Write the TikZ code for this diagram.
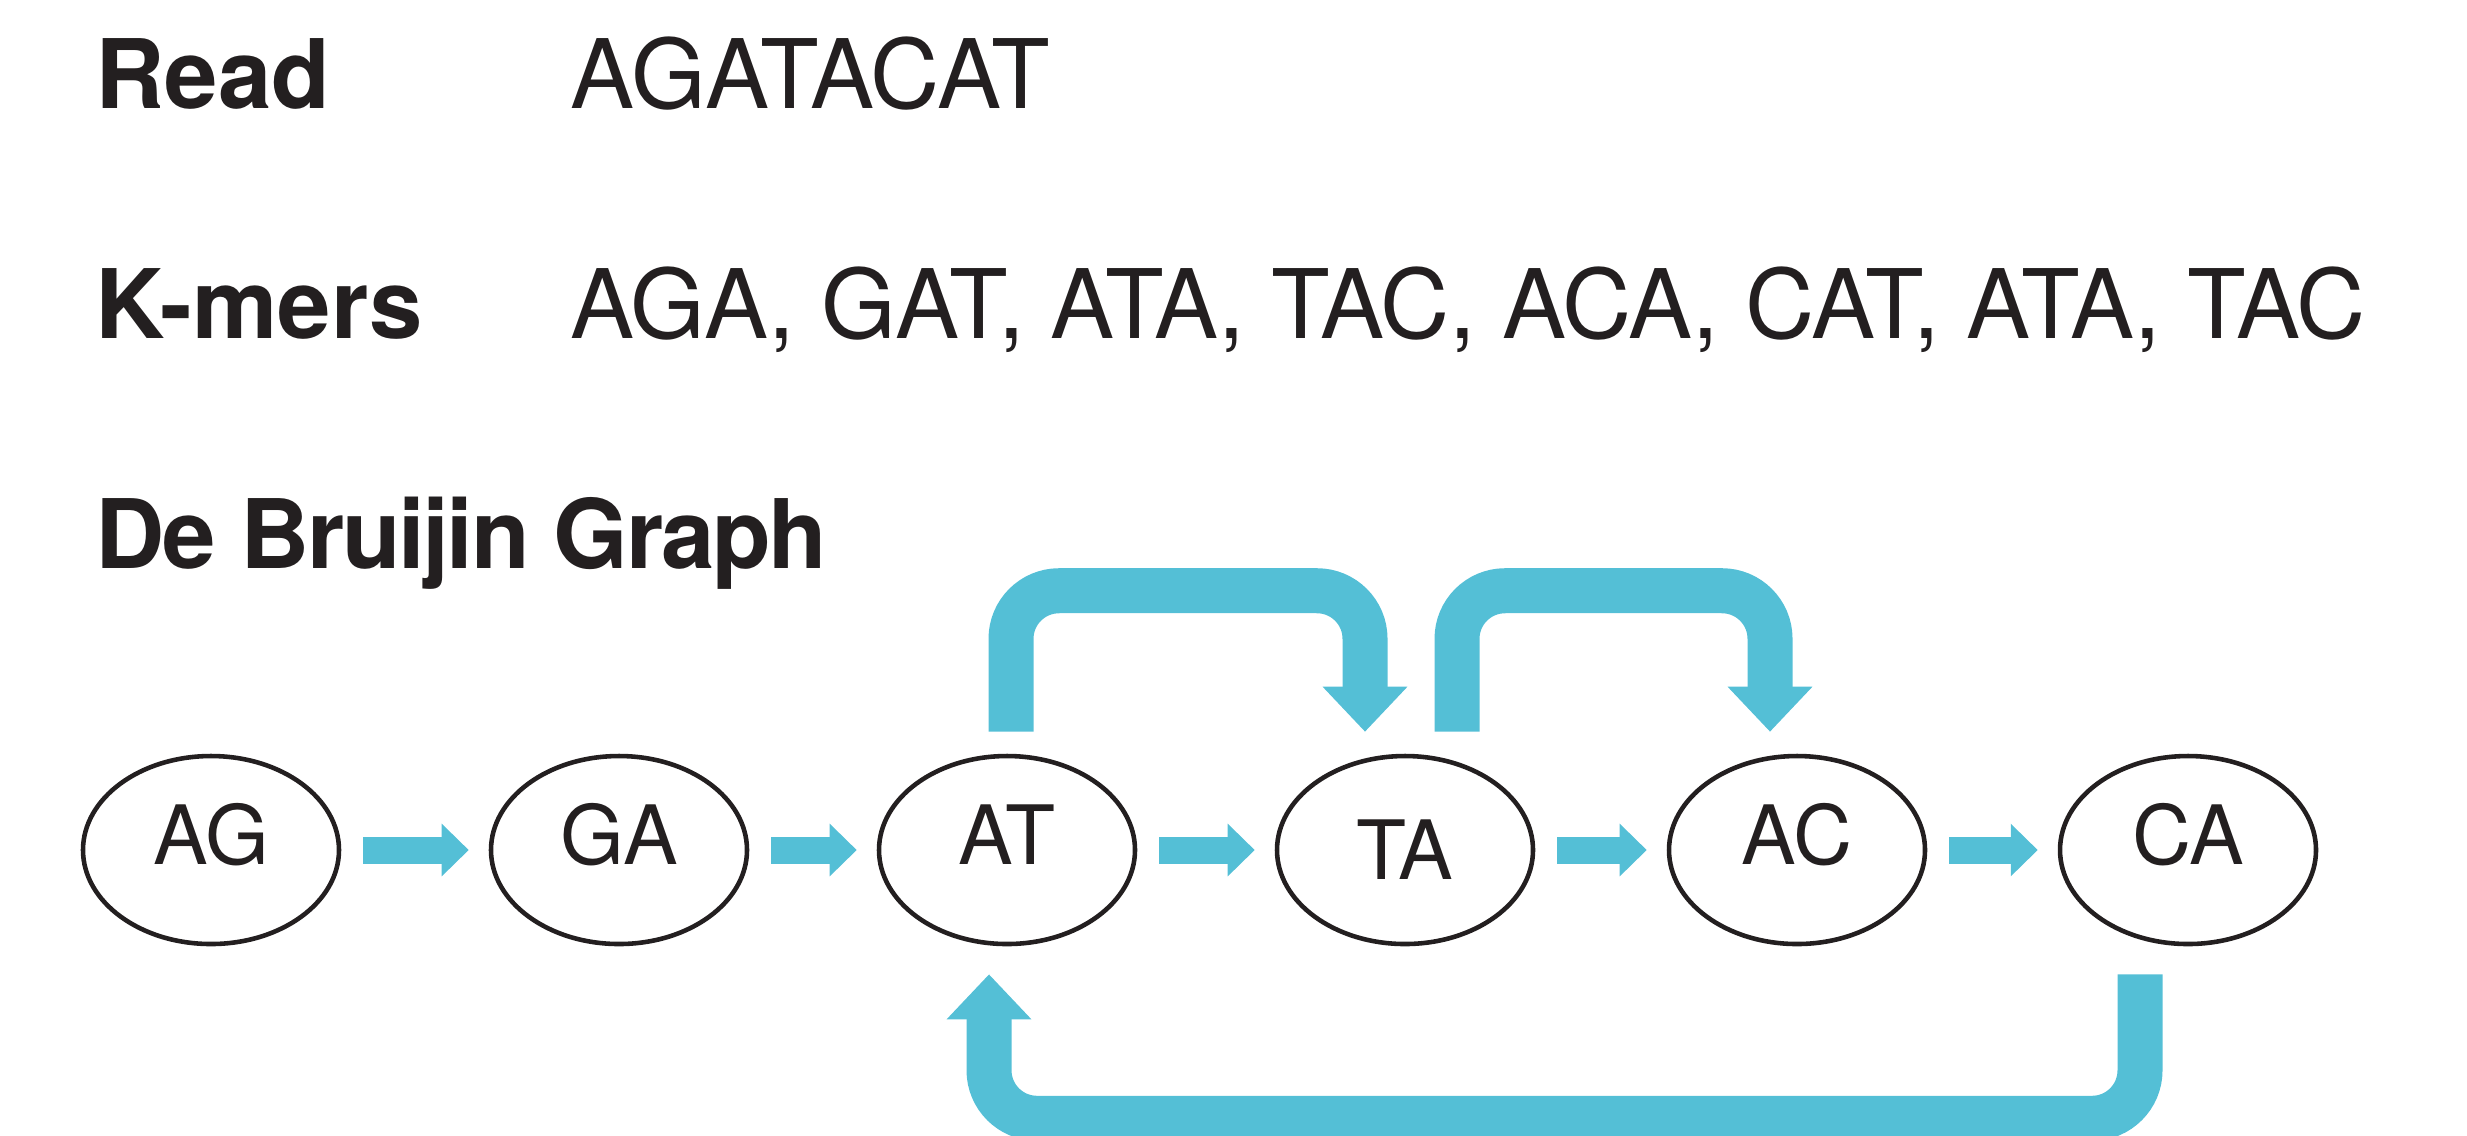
\documentclass[tikz,border=0pt]{standalone}
\usepackage{fontspec}
\setmainfont{TeX Gyre Heros}
\usetikzlibrary{arrows.meta,shapes.geometric}
\definecolor{dbcyan}{HTML}{54BFD6}
\definecolor{dbink}{HTML}{231F20}

\begin{document}
\begin{tikzpicture}[x=0.1mm,y=-0.1mm,
	head/.style={anchor=base west,inner sep=0,text=dbink,font=\fontsize{27.3}{30}\selectfont\bfseries},
	seq/.style={anchor=base west,inner sep=0,text=dbink,font=\fontsize{27.3}{30}\selectfont},
	kmer/.style={ellipse,draw=dbink,line width=1.3pt,minimum width=25.6mm,minimum height=18.8mm,inner sep=0,text=dbink,font=\fontsize{23.3}{25}\selectfont,text height=5.9mm,text depth=3mm},
	nextarrow/.style={dbcyan,line width=2.7mm,shorten <=2.2mm,shorten >=2mm,-{Triangle[width=5.1mm,length=2.7mm]}},
	jumparrow/.style={dbcyan,line width=4.5mm,rounded corners=4.8mm,-{Triangle[width=8.2mm,length=4.5mm]}}]
	\useasboundingbox (0,0) rectangle (2467,1135);
	\node[head] (readlbl) at (95,108) {Read};
	\node[seq] (readseq) at (570,108) {AGATACAT};
	\node[head] (kmerlbl) at (95,338) {K-mers};
	\node[seq] (kmerseq) at (570,338) {\addfontfeatures{LetterSpace=-0.5}AGA, GAT, ATA, TAC, ACA, CAT, ATA, TAC};
	\node[head] (graphlbl) at (95,568) {\addfontfeatures{LetterSpace=-2.5}De Bruijin Graph};
	\node[kmer] (kAG) at (211,850) {AG};
	\node[kmer] (kGA) at (619,850) {GA};
	\node[kmer] (kAT) at (1007,850) {AT};
	\node[kmer,text depth=0pt] (kTA) at (1405,850) {TA};
	\node[kmer] (kAC) at (1797,850) {AC};
	\node[kmer] (kCA) at (2188,850) {CA};
	\draw[nextarrow] (kAG) -- (kGA);
	\draw[nextarrow] (kGA) -- (kAT);
	\draw[nextarrow] (kAT) -- (kTA);
	\draw[nextarrow] (kTA) -- (kAC);
	\draw[nextarrow] (kAC) -- (kCA);
	\draw[jumparrow] ([xshift=0.4mm,yshift=2.2mm]kAT.north) -- ++(0,-141) -| ([xshift=-4mm,yshift=2.2mm]kTA.north);
	\draw[jumparrow] ([xshift=5.2mm,yshift=2.2mm]kTA.north) -- ++(0,-141) -| ([xshift=-2.7mm,yshift=2.2mm]kAC.north);
	\draw[jumparrow] ([xshift=-4.8mm,yshift=-2.8mm]kCA.south) -- ++(0,144) -| ([xshift=-1.8mm,yshift=-2.8mm]kAT.south);
\end{tikzpicture}
\end{document}
